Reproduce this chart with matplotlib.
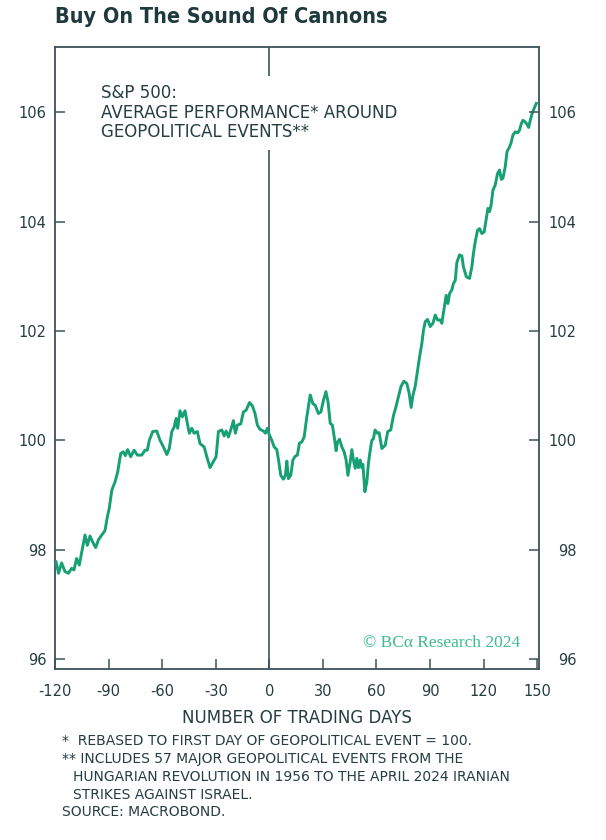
import numpy as np
import matplotlib
matplotlib.use("Agg")
import matplotlib.pyplot as plt

plt.rcParams['axes.unicode_minus'] = False

# S&P 500 average path around geopolitical events
days = [-119.4, -118.0, -116.3, -114.4, -112.5, -110.7, -109.4, -107.9, -106.4, -104.5,
        -103.2, -101.9, -100.4, -98.9, -97.2, -95.7, -93.8, -92.0, -90.7, -89.6,
        -88.2, -86.4, -84.9, -83.2, -81.7, -80.6, -79.3, -77.6, -75.7, -73.9,
        -71.4, -69.6, -68.3, -67.2, -65.3, -63.0, -61.2, -59.3, -57.4, -56.0,
        -54.6, -53.3, -52.2, -51.3, -50.0, -48.7, -47.2, -45.9, -44.8, -43.4,
        -42.1, -40.3, -38.8, -36.5, -35.0, -33.2, -31.3, -29.8, -28.5, -26.6,
        -25.3, -24.2, -22.9, -21.6, -20.1, -19.0, -17.9, -16.0, -14.5, -13.0,
        -11.1, -9.5, -8.0, -6.7, -5.2, -3.3, -2.2, -1.1, 0.0, 1.4,
        2.7, 4.2, 5.3, 6.4, 7.9, 9.0, 9.8, 10.7, 12.0, 13.2,
        14.5, 15.7, 16.9, 18.2, 19.5, 21.0, 22.9, 24.4, 25.7, 27.5,
        28.9, 30.3, 31.7, 32.9, 34.1, 35.3, 36.5, 37.4, 38.2, 39.3,
        40.6, 41.9, 43.0, 44.0, 45.3, 46.2, 47.1, 48.1, 49.0, 49.9,
        50.9, 51.8, 52.4, 53.5, 54.6, 55.5, 56.5, 57.4, 58.3, 59.2,
        60.5, 61.5, 63.0, 64.9, 66.3, 68.0, 69.5, 70.8, 72.3, 73.7,
        75.3, 77.0, 78.3, 79.4, 80.4, 81.7, 83.0, 84.1, 85.4, 86.3,
        87.3, 88.6, 90.1, 91.6, 92.9, 94.2, 95.7, 96.6, 97.9, 99.0,
        100.0, 100.9, 102.2, 103.1, 104.1, 105.0, 106.5, 107.8, 108.7, 110.3,
        112.1, 113.4, 114.3, 115.3, 116.6, 117.7, 119.0, 120.3, 121.4, 122.4,
        123.3, 124.2, 125.2, 126.5, 127.8, 128.9, 129.9, 130.8, 132.1, 133.1,
        134.2, 135.3, 136.4, 137.7, 139.0, 140.1, 141.1, 142.0, 143.3, 144.6,
        145.2, 146.1, 147.2, 148.3, 149.5]
perf = [97.78, 97.57, 97.76, 97.60, 97.57, 97.66, 97.63, 97.84, 97.72, 98.05,
        98.27, 98.08, 98.25, 98.14, 98.04, 98.18, 98.27, 98.35, 98.60, 98.76,
        99.09, 99.24, 99.42, 99.76, 99.79, 99.72, 99.83, 99.70, 99.82, 99.73,
        99.73, 99.82, 99.82, 100.00, 100.16, 100.17, 100.00, 99.88, 99.74, 99.85,
        100.16, 100.24, 100.40, 100.22, 100.54, 100.43, 100.54, 100.31, 100.13, 100.22,
        100.13, 100.16, 99.94, 99.88, 99.70, 99.50, 99.61, 99.70, 100.16, 100.19,
        100.08, 100.17, 100.06, 100.19, 100.36, 100.13, 100.28, 100.30, 100.52, 100.55,
        100.69, 100.63, 100.49, 100.28, 100.20, 100.17, 100.13, 100.22, 100.10, 100.00,
        99.88, 99.83, 99.61, 99.36, 99.29, 99.36, 99.62, 99.30, 99.36, 99.64,
        99.71, 99.73, 99.95, 99.97, 100.06, 100.43, 100.83, 100.67, 100.64, 100.49,
        100.52, 100.73, 100.89, 100.70, 100.31, 100.28, 100.03, 99.81, 99.97, 100.02,
        99.88, 99.79, 99.64, 99.36, 99.61, 99.83, 99.64, 99.49, 99.67, 99.50,
        99.64, 99.50, 99.56, 99.06, 99.24, 99.58, 99.82, 100.00, 100.03, 100.19,
        100.13, 100.14, 99.85, 99.91, 100.16, 100.19, 100.45, 100.60, 100.80, 100.98,
        101.08, 101.04, 100.86, 100.60, 100.82, 100.99, 101.28, 101.52, 101.77, 102.01,
        102.17, 102.21, 102.08, 102.14, 102.29, 102.20, 102.20, 102.14, 102.41, 102.65,
        102.50, 102.68, 102.75, 102.87, 102.92, 103.25, 103.39, 103.37, 103.17, 102.99,
        102.96, 103.17, 103.42, 103.63, 103.84, 103.87, 103.78, 103.81, 104.03, 104.24,
        104.18, 104.30, 104.57, 104.67, 104.88, 104.94, 104.77, 104.79, 105.00, 105.28,
        105.34, 105.43, 105.58, 105.64, 105.62, 105.67, 105.79, 105.85, 105.82, 105.76,
        105.72, 105.85, 105.98, 106.07, 106.16]

xticks = [-120, -90, -60, -30, 0, 30, 60, 90, 120, 150]
yticks = [96, 98, 100, 102, 104, 106]

dark = "#263d42"
axcol = "#3b5359"
green = "#16a074"

fig = plt.figure(figsize=(6.06, 8.40), dpi=100)
ax = fig.add_axes([55/606, 1 - 669/840, 484/606, 622/840])

ax.plot(days, perf, color=green, lw=2.1, zorder=3)
ax.axvline(0, color=axcol, lw=1.2, zorder=2)

ax.set_xlim(-120, 151)
ax.set_ylim(95.82, 107.19)
ax.set_xticks(xticks)
ax.set_yticks(yticks)
ax.set_xticklabels([str(t) for t in xticks])

for s in ax.spines.values():
    s.set_color(axcol)
    s.set_linewidth(1.3)

ax.tick_params(axis='y', direction='in', length=7, width=1.1, color=axcol,
               labelsize=10.5, labelcolor=dark, pad=6)
ax.tick_params(axis='x', direction='in', length=7, width=1.1, color=axcol,
               labelsize=10.5, labelcolor=dark, pad=11)

# right-hand copy of the y axis, labels right aligned
ax2 = ax.twinx()
ax2.set_ylim(ax.get_ylim())
ax2.set_yticks(yticks)
ax2.set_yticklabels([str(t) for t in yticks], ha='right')
ax2.tick_params(axis='y', direction='in', length=7, width=1.1, color=axcol,
                labelsize=10.5, labelcolor=dark, pad=27)
for s in ax2.spines.values():
    s.set_visible(False)

ax.set_xlabel("NUMBER OF TRADING DAYS", fontsize=12, color=dark, labelpad=7)

# in-chart label with white box cutting the zero line
ax2.text(101/606, 1 - 84/840,
         "S&P 500:\nAVERAGE PERFORMANCE* AROUND\nGEOPOLITICAL EVENTS**",
         transform=fig.transFigure, fontsize=12, color=dark, va='top', ha='left',
         linespacing=1.12, zorder=5,
         bbox=dict(facecolor='white', edgecolor='none', pad=6))

ax2.text(520/606, 1 - 643/840, "© BCα Research 2024", transform=fig.transFigure,
         fontsize=12.5, color="#3dbb8c", family="Liberation Serif",
         ha='right', va='center')

fig.text(55/606, 1 - 17/840, "Buy On The Sound Of Cannons",
         fontsize=15.5, fontweight='bold', color="#1f3a3c", fontstretch='condensed',
         family=["DejaVu Sans"], va='center', ha='left')

notes = [(62, 741, "*  REBASED TO FIRST DAY OF GEOPOLITICAL EVENT = 100."),
         (62, 759, "** INCLUDES 57 MAJOR GEOPOLITICAL EVENTS FROM THE"),
         (73, 777, "HUNGARIAN REVOLUTION IN 1956 TO THE APRIL 2024 IRANIAN"),
         (73, 795, "STRIKES AGAINST ISRAEL."),
         (62, 812, "SOURCE: MACROBOND.")]
for nx, ny, txt in notes:
    fig.text(nx/606, 1 - ny/840, txt, fontsize=10, color=dark, va='center', ha='left')

fig.savefig("out.png", dpi=100)
